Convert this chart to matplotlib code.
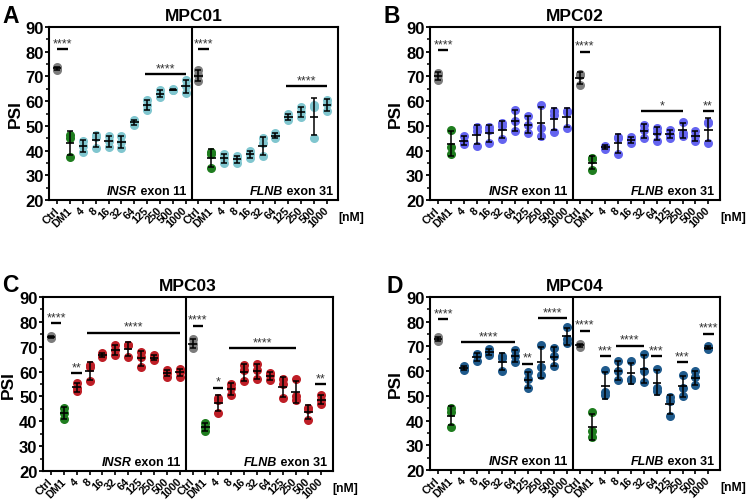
import numpy as np
import matplotlib.pyplot as plt
from matplotlib.ticker import MultipleLocator

plt.rcParams['font.family'] = ['Liberation Sans', 'DejaVu Sans']
plt.rcParams['font.weight'] = 'bold'
plt.rcParams['axes.labelweight'] = 'bold'

doses = ['Ctrl', 'DM1', '4', '8', '16', '32', '64', '125', '250', '500', '1000']

# PSI replicates (n=3)
mpc01_insr = [[72.5, 73.3, 74.0], [37.5, 45.0, 46.5], [39.5, 42.0, 44.0], [41.0, 45.5, 46.5],
              [41.5, 44.0, 46.0], [41.0, 43.5, 46.0], [50.5, 51.5, 52.5], [56.5, 58.5, 60.5],
              [61.5, 63.0, 64.5], [64.5, 64.7, 64.9], [63.5, 66.0, 68.5]]
mpc01_flnb = [[68.0, 70.5, 72.5], [33.0, 38.5, 39.5], [35.0, 37.0, 38.5], [35.0, 36.5, 38.0],
              [37.0, 38.5, 40.0], [38.0, 43.0, 45.0], [45.0, 45.8, 47.0], [52.5, 53.0, 55.0],
              [53.5, 55.5, 57.5], [45.0, 57.5, 58.5], [56.0, 59.0, 60.5]]

mpc02_insr = [[68.5, 70.5, 71.5], [38.5, 41.5, 48.5], [42.5, 43.5, 46.0], [42.0, 48.0, 49.5],
              [43.0, 48.5, 49.5], [44.5, 50.0, 51.0], [48.0, 52.0, 56.5], [47.0, 50.5, 54.0],
              [46.0, 49.0, 58.5], [47.5, 54.5, 56.0], [49.0, 55.5, 56.0]]
mpc02_flnb = [[66.5, 70.5, 71.0], [32.0, 36.5, 37.0], [40.5, 41.5, 42.0], [38.5, 45.5, 45.0],
              [43.0, 44.5, 45.5], [45.0, 48.5, 50.5], [44.0, 47.5, 49.0], [45.0, 46.5, 48.5],
              [46.0, 47.0, 51.5], [44.0, 46.0, 48.0], [43.0, 51.0, 51.5]]

mpc03_insr = [[73.7, 74.0, 74.3], [41.0, 43.5, 45.5], [52.0, 53.5, 55.3], [56.0, 62.0, 62.5],
              [66.0, 66.5, 67.5], [66.5, 68.5, 70.5], [66.0, 70.5, 70.8], [62.0, 66.0, 68.0],
              [64.5, 65.5, 66.5], [58.0, 59.5, 60.5], [58.0, 60.0, 61.0]]
mpc03_flnb = [[69.5, 71.0, 73.0], [36.0, 37.5, 39.5], [43.5, 48.5, 49.5], [50.5, 53.5, 55.0],
              [56.0, 60.5, 62.5], [57.0, 60.5, 63.0], [56.5, 58.5, 59.5], [49.5, 55.0, 57.0],
              [48.5, 50.0, 57.0], [40.5, 45.0, 45.5], [47.0, 48.5, 50.5]]

mpc04_insr = [[72.0, 73.0, 74.0], [37.5, 43.5, 45.0], [60.5, 61.5, 62.0], [64.0, 66.5, 67.0],
              [66.5, 67.5, 69.0], [60.0, 65.5, 66.0], [63.5, 66.0, 68.5], [53.0, 57.0, 59.5],
              [58.5, 61.5, 70.5], [62.0, 66.0, 69.5], [71.5, 73.0, 78.0]]
mpc04_flnb = [[69.8, 70.4, 71.0], [33.2, 35.9, 43.3], [50.5, 51.5, 60.5], [56.5, 60.0, 64.0],
              [56.5, 57.0, 64.0], [55.5, 60.0, 67.0], [52.0, 53.0, 61.0], [42.0, 48.0, 49.5],
              [50.0, 53.0, 58.5], [54.5, 57.5, 60.0], [69.0, 69.5, 70.0]]

# significance bars: (first index, last index, PSI level, label), FLNB indices start at 11
mpc01_sig = [(0, 1, 81, '****'), (7, 10, 71, '****'), (11, 12, 81, '****'), (18, 21, 66, '****')]
mpc02_sig = [(0, 1, 80.5, '****'), (11, 12, 80, '****'), (16, 19, 56, '*'), (21, 21, 56, '**')]
mpc03_sig = [(0, 1, 79.5, '****'), (2, 2, 59.3, '**'), (3, 10, 75.6, '****'),
             (11, 12, 78.5, '****'), (13, 13, 53.5, '*'), (14, 19, 69.4, '****'), (21, 21, 54.9, '**')]
mpc04_sig = [(0, 1, 81, '****'), (2, 6, 71.8, '****'), (7, 7, 63, '**'), (8, 10, 81.3, '****'),
             (11, 12, 76.3, '****'), (13, 13, 66, '***'), (14, 16, 70.2, '****'), (17, 17, 66, '***'),
             (19, 19, 63.5, '***'), (21, 21, 75.2, '****')]

ctrl_color = '#7c7c7c'
dm1_color = '#1f7d1f'


def draw_panel(ax, insr, flnb, color, sigs, title):
    data = insr + flnb
    for i, reps in enumerate(data):
        if i % 11 == 0:
            c = ctrl_color
        elif i % 11 == 1:
            c = dm1_color
        else:
            c = color
        ax.plot([i] * len(reps), reps, 'o', ms=6.5, color=c, mec='none', zorder=2)
        m = np.mean(reps)
        sd = np.std(reps, ddof=1)
        ax.errorbar(i, m, yerr=sd, fmt='none', ecolor='black', elinewidth=1.1,
                    capsize=2.2, capthick=1.1, zorder=3)
        ax.hlines(m, i - 0.33, i + 0.33, color='black', lw=1.2, zorder=3)

    for a, b, y, label in sigs:
        if a == b:
            x0, x1 = a - 0.45, a + 0.4
        elif b == a + 1 and a % 11 == 0:
            x0, x1 = a, a + 0.8
        else:
            x0, x1 = a - 0.2, b
        ax.plot([x0, x1], [y, y], color='black', lw=1.7, solid_capstyle='butt')
        ax.annotate(label, xy=((x0 + x1) / 2, y), xytext=(0, 0), textcoords='offset points',
                    ha='center', va='bottom', fontsize=9, fontweight='normal', color='#333333')

    ax.axvline(10.5, color='black', lw=1.5)
    ax.set_xlim(-0.62, 21.9)
    ax.set_ylim(20, 90)
    ax.yaxis.set_major_locator(MultipleLocator(10))
    ax.yaxis.set_minor_locator(MultipleLocator(5))
    ax.set_xticks(np.arange(22))
    ax.set_xticklabels(doses + doses, rotation=45, ha='right', va='center',
                       rotation_mode='anchor', fontsize=7.8)
    ax.tick_params(axis='y', labelsize=12, length=3, width=1.3, pad=1)
    ax.tick_params(axis='y', which='minor', length=2, width=1.1)
    ax.tick_params(axis='x', length=3, width=1.2, pad=3)
    for s in ax.spines.values():
        s.set_linewidth(1.5)
    ax.set_ylabel('PSI', fontsize=12.5, labelpad=2)
    ax.set_title(title, fontsize=12.5, fontweight='bold', pad=5)

    for xr, gene, exon in [(10.5, 'INSR', ' exon 11'), (21.9, 'FLNB', ' exon 31')]:
        t = ax.annotate(exon, xy=(xr, 0), xycoords=('data', 'axes fraction'), xytext=(-4, 4),
                        textcoords='offset points', ha='right', va='baseline', fontsize=9)
        ax.annotate(gene, xy=(0, 0), xycoords=t, ha='right', va='bottom', fontsize=9,
                    style='italic')
    ax.text(1.0, -0.1, '[nM]', transform=ax.transAxes, ha='left', va='center', fontsize=8.8)


fig = plt.figure(figsize=(7.47, 5.02), dpi=100)
ax_a = fig.add_axes([0.066, 0.5996, 0.387, 0.3446])
ax_b = fig.add_axes([0.5756, 0.5996, 0.3882, 0.3446])
ax_c = fig.add_axes([0.0576, 0.0598, 0.388, 0.3466])
ax_d = fig.add_axes([0.5756, 0.0618, 0.3882, 0.3446])

draw_panel(ax_a, mpc01_insr, mpc01_flnb, '#80c6cf', mpc01_sig, 'MPC01')
draw_panel(ax_b, mpc02_insr, mpc02_flnb, '#6464f0', mpc02_sig, 'MPC02')
draw_panel(ax_c, mpc03_insr, mpc03_flnb, '#be1e26', mpc03_sig, 'MPC03')
draw_panel(ax_d, mpc04_insr, mpc04_flnb, '#1f5a8c', mpc04_sig, 'MPC04')

for letter, x, y in [('A', 0.003, 0.99), ('B', 0.513, 0.99), ('C', 0.003, 0.455), ('D', 0.518, 0.453)]:
    fig.text(x, y, letter, fontsize=16.5, fontweight='bold', va='top', ha='left')

fig.savefig('out.png', dpi=100)
